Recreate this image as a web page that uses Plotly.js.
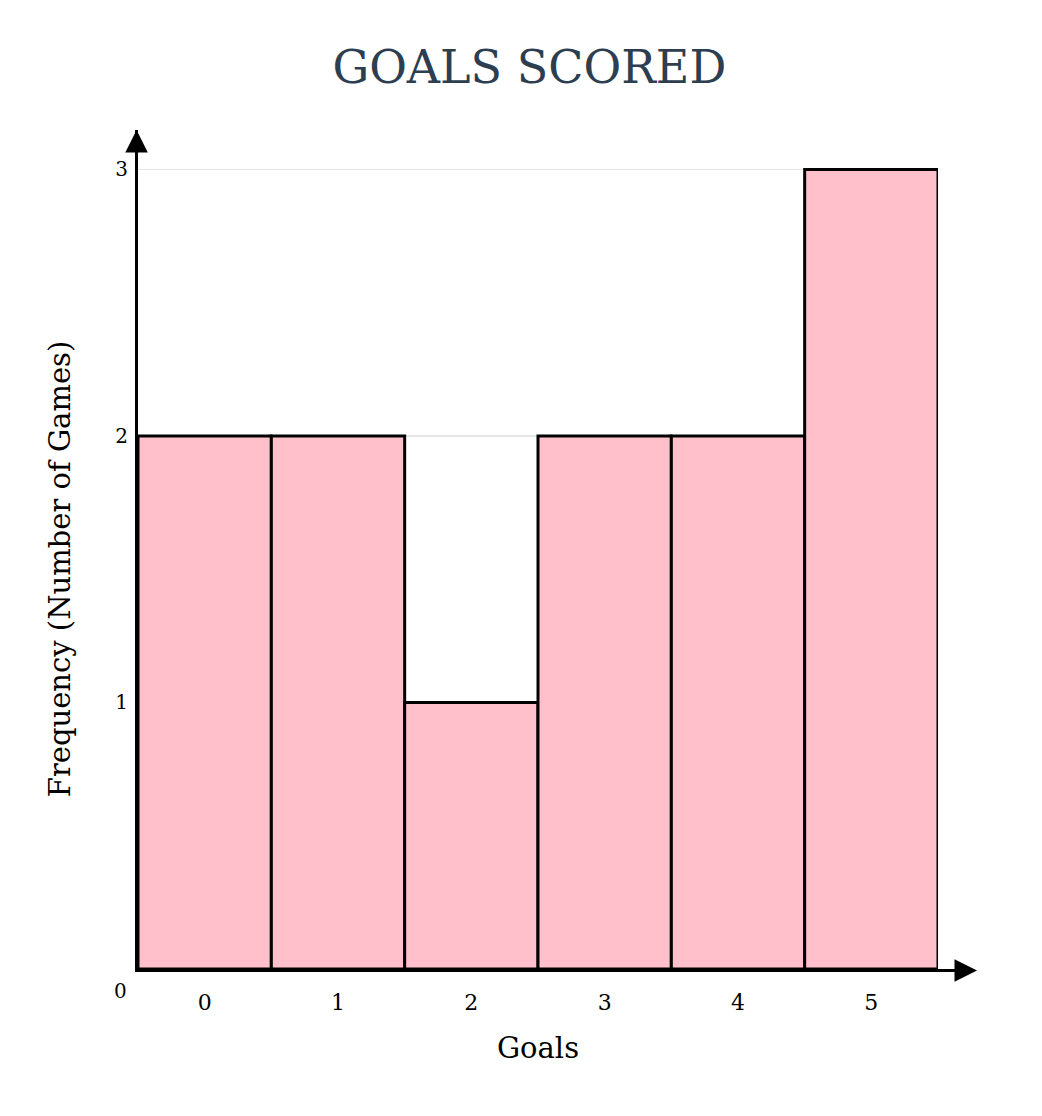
<!DOCTYPE html>
<html>
<head>
<meta charset="utf-8">
<script src="https://cdn.plot.ly/plotly-3.0.1.min.js"></script>
<style>html,body{margin:0;padding:0;background:#fff;}#chart{width:1042px;height:1116px;}</style>
</head>
<body>
<div id="chart"></div>
<script>
const goals = [0, 1, 2, 3, 4, 5];
const frequency = [2, 2, 1, 2, 2, 3];
const yTicks = [1, 2, 3];
const chartTitle = "GOALS SCORED";
const xTitle = "Goals";
const yTitle = "Frequency (Number of Games)";
const FONT = "Georgia, 'DejaVu Serif', 'Liberation Serif', serif";

const trace = {
  type: 'bar',
  x: goals,
  y: frequency,
  width: 1,
  marker: {color: '#ffc0cb', line: {color: '#000', width: 3}},
  hoverinfo: 'skip'
};

const layout = {
  width: 1042, height: 1116,
  margin: {l: 138, r: 104, t: 130, b: 147},
  paper_bgcolor: '#fff', plot_bgcolor: '#fff',
  showlegend: false,
  font: {family: FONT, color: '#000'},
  title: {text: chartTitle, x: 0.508, xanchor: 'center', y: 0.94, yanchor: 'middle',
          font: {family: FONT, size: 46, color: '#2c3e50'}},
  xaxis: {
    range: [-0.5, 5.5], tickvals: goals, ticktext: goals.map(String),
    showgrid: false, zeroline: false, showline: true, linecolor: '#000', linewidth: 3,
    ticks: '', ticklabelstandoff: 12, tickfont: {family: FONT, size: 22, color: '#000'},
    title: {text: xTitle, standoff: 24, font: {family: FONT, size: 29, color: '#000'}}
  },
  yaxis: {
    range: [0, 3.148], tickvals: yTicks, ticktext: yTicks.map(String),
    showgrid: true, gridcolor: '#e6e6e6', gridwidth: 1.5,
    zeroline: false, showline: true, linecolor: '#000', linewidth: 3,
    ticks: '', ticklabelstandoff: 3, tickfont: {family: FONT, size: 20, color: '#000'}
  },
  bargap: 0,
  shapes: [
    {type: 'line', xref: 'paper', yref: 'paper', x0: 0.99, x1: 1.045, y0: -0.0018, y1: -0.0018,
     line: {color: '#000', width: 3}, layer: 'above'}
  ],
  annotations: [
    {xref: 'paper', yref: 'paper', x: 1, y: -0.0018, ax: -24, ay: 0, xshift: 39, axref: 'pixel', ayref: 'pixel',
     showarrow: true, arrowhead: 2, arrowsize: 1.5, arrowwidth: 3, arrowcolor: '#000', text: ''},
    {xref: 'paper', yref: 'paper', x: -0.0018, y: 1, ax: 0, ay: 24, axref: 'pixel', ayref: 'pixel',
     showarrow: true, arrowhead: 2, arrowsize: 1.5, arrowwidth: 3, arrowcolor: '#000', text: ''},
    {xref: 'paper', yref: 'y', x: 0, y: 0, xanchor: 'right', yanchor: 'top', xshift: -9, yshift: -8,
     showarrow: false, text: '0', font: {family: FONT, size: 20, color: '#000'}},
    {xref: 'paper', yref: 'y', x: 0, y: 1.5, xanchor: 'center', yanchor: 'middle', xshift: -78,
     textangle: -90, showarrow: false, text: yTitle, font: {family: FONT, size: 29, color: '#000'}}
  ]
};

Plotly.newPlot('chart', [trace], layout, {staticPlot: true, displayModeBar: false});
</script>
</body>
</html>
